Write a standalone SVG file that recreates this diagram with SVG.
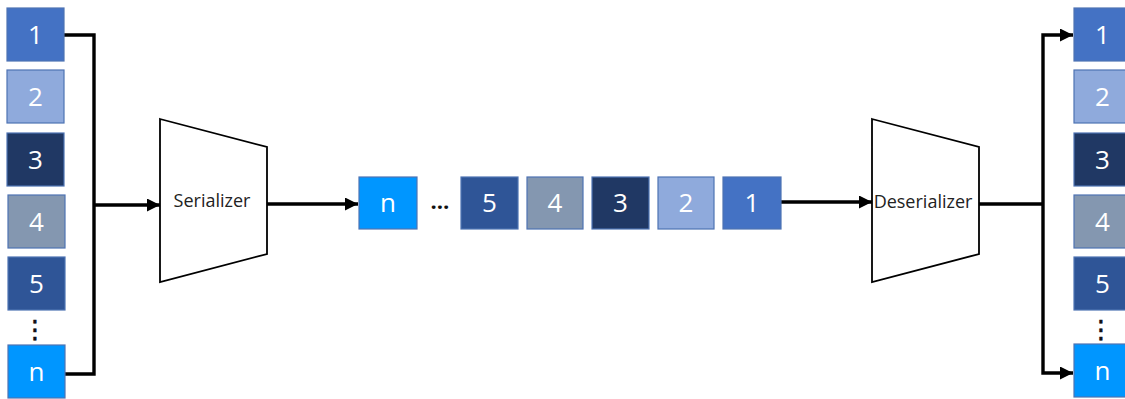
<svg xmlns="http://www.w3.org/2000/svg" width="1125" height="399" viewBox="0 0 1125 399">
<style>
.b{stroke:#4e73b3;stroke-width:1.2}
.c1{fill:#4472C4}.c2{fill:#8FAADC}.c3{fill:#203864}.c4{fill:#8497B0}.c5{fill:#2F5597}.cn{fill:#0096FF}
.d{font-family:"Open Sans","Noto Sans",sans-serif;font-size:26px;fill:#fff;text-anchor:middle}
.lbl{font-family:"Open Sans","Noto Sans",sans-serif;font-size:18px;fill:#222;text-anchor:middle}
.dots{font-family:"DejaVu Sans",sans-serif;font-size:25px;fill:#111;stroke:#111;stroke-width:0.6;text-anchor:middle}
.ln{fill:none;stroke:#000;stroke-width:3.4}
.trap{fill:#fff;stroke:#000;stroke-width:1.8}
</style>
<defs>
<marker id="ah" viewBox="0 0 10 10" refX="10" refY="5" markerWidth="14" markerHeight="13" markerUnits="userSpaceOnUse" orient="auto">
<path d="M0,0 L10,5 L0,10 Z" fill="#000"/>
</marker>
</defs>
<g id="connectors">
<path class="ln" d="M64,35 H94 V374 H65"/>
<path class="ln" d="M94,205 H160" marker-end="url(#ah)"/>
<path class="ln" d="M267,204 H358" marker-end="url(#ah)"/>
<path class="ln" d="M781,202 H872" marker-end="url(#ah)"/>
<path class="ln" d="M979,204 H1043"/>
<path class="ln" d="M1043,204 V35 H1073" marker-end="url(#ah)"/>
<path class="ln" d="M1043,204 V373 H1073" marker-end="url(#ah)"/>
</g>
<g id="in-1"><rect class="b c1" x="7" y="8" width="57" height="53"/><text class="d" x="35.5" y="44">1</text></g>
<g id="in-2"><rect class="b c2" x="7" y="70" width="57" height="53"/><text class="d" x="35.5" y="106">2</text></g>
<g id="in-3"><rect class="b c3" x="7" y="133" width="57" height="53"/><text class="d" x="35.5" y="169">3</text></g>
<g id="in-4"><rect class="b c4" x="8" y="195" width="57" height="53"/><text class="d" x="36.5" y="231">4</text></g>
<g id="in-5"><rect class="b c5" x="8" y="257" width="57" height="53"/><text class="d" x="36.5" y="293">5</text></g>
<g id="in-dots"><text class="dots" x="35" y="338">⋮</text></g>
<g id="in-n"><rect class="b cn" x="8" y="345" width="57" height="53"/><text class="d" x="36.5" y="381">n</text></g>
<g id="serializer"><polygon class="trap" points="160,119 267,147 267,254 160,282"/><text class="lbl" x="212" y="207">Serializer</text></g>
<g id="s-n"><rect class="b cn" x="359" y="177" width="58" height="52"/><text class="d" x="388" y="212">n</text></g>
<g id="s-ellipsis"><text class="lbl" style="font-size:22px;font-weight:bold;fill:#111" x="440" y="209">…</text></g>
<g id="s-5"><rect class="b c5" x="461" y="177" width="57" height="52"/><text class="d" x="489.5" y="212">5</text></g>
<g id="s-4"><rect class="b c4" x="527" y="177" width="56" height="52"/><text class="d" x="555" y="212">4</text></g>
<g id="s-3"><rect class="b c3" x="592" y="177" width="57" height="52"/><text class="d" x="620.5" y="212">3</text></g>
<g id="s-2"><rect class="b c2" x="658" y="177" width="56" height="52"/><text class="d" x="686" y="212">2</text></g>
<g id="s-1"><rect class="b c1" x="723" y="177" width="58" height="52"/><text class="d" x="752" y="212">1</text></g>
<g id="deserializer"><polygon class="trap" points="872,119 979,147 979,254 872,282"/><text class="lbl" x="923" y="208">Deserializer</text></g>
<g id="out-1"><rect class="b c1" x="1074" y="8" width="57" height="53"/><text class="d" x="1102.5" y="44">1</text></g>
<g id="out-2"><rect class="b c2" x="1074" y="70" width="57" height="53"/><text class="d" x="1102.5" y="106">2</text></g>
<g id="out-3"><rect class="b c3" x="1074" y="133" width="57" height="53"/><text class="d" x="1102.5" y="169">3</text></g>
<g id="out-4"><rect class="b c4" x="1074" y="195" width="57" height="53"/><text class="d" x="1102.5" y="231">4</text></g>
<g id="out-5"><rect class="b c5" x="1074" y="257" width="57" height="53"/><text class="d" x="1102.5" y="293">5</text></g>
<g id="out-dots"><text class="dots" x="1101" y="338">⋮</text></g>
<g id="out-n"><rect class="b cn" x="1074" y="344" width="57" height="53"/><text class="d" x="1102.5" y="380">n</text></g>
</svg>
